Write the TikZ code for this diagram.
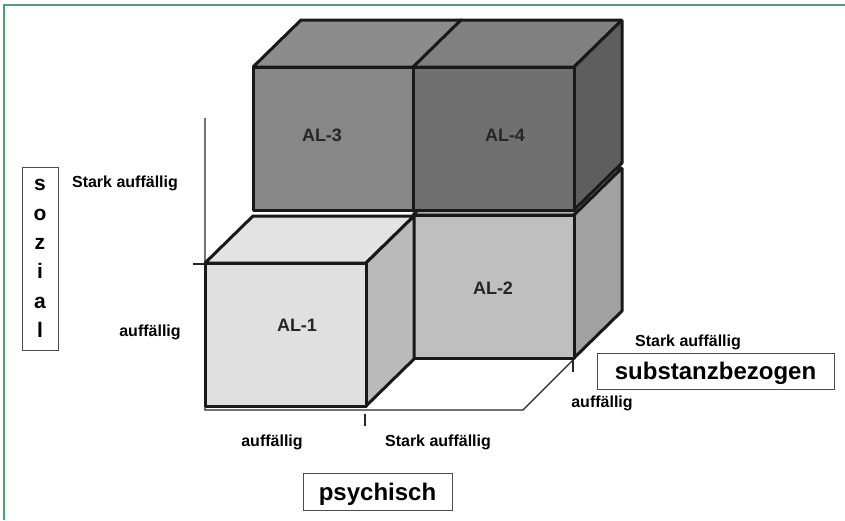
\documentclass[tikz,border=0pt]{standalone}
\usepackage{fontspec}
\setmainfont{Liberation Sans}
\definecolor{framegreen}{RGB}{70,165,110}
\begin{document}
\begin{tikzpicture}[
    x=1pt,
    y=-1pt,
    cube/.style={
        draw=black!90,
        line width=3pt,
        line join=bevel
    },
    axis/.style={
        draw=black!85,
        line width=1.2pt
    },
    cubetext/.style={
        inner sep=0pt,
        text=black!85,
        font=\fontsize{18}{22}\selectfont\bfseries
    },
    axistext/.style={
        inner sep=0pt,
        font=\fontsize{16}{19}\selectfont\bfseries
    },
    titlebox/.style={
        rectangle,
        draw=black!70,
        line width=1pt,
        inner sep=0pt,
        text depth=0pt,
        font=\fontsize{24}{29}\selectfont\bfseries
    }
]
\useasboundingbox (0,0) rectangle (845,520);

% Rahmen
\draw[framegreen, line width=1.5pt] (3,5) -- (845,5);
\draw[framegreen, line width=1.5pt] (4,5) -- (4,520);

% Achsen
\draw[axis] (205,118) -- (205,410) -- (523,410) -- (573,360);
\draw[axis] (193,264) -- (205,264);
\draw[axis] (365,414) -- (365,426);
\draw[axis] (573,360) -- (573,372);

% Wuerfel (hinten zuerst)
\foreach \cx/\cy/\cfront/\ctop/\cside in {
    413/215/black!25/black!30/black!37,
    253/67/black!47/black!45/black!52,
    413/67/black!56/black!50/black!63,
    205/263/black!12/black!11/black!27}{
    \filldraw[cube, fill=\ctop] (\cx,\cy) -- ++(48,-47) -- ++(161,0) -- ++(-48,47) -- cycle;
    \filldraw[cube, fill=\cside] (\cx+161,\cy) -- ++(48,-47) -- ++(0,143) -- ++(-48,47) -- cycle;
    \filldraw[cube, fill=\cfront] (\cx,\cy) rectangle ++(161,143);
}

\node[cubetext] (al3) at (322,135) {AL-3};
\node[cubetext] (al4) at (505,135) {AL-4};
\node[cubetext] (al2) at (493,288) {AL-2};
\node[cubetext] (al1) at (297,325) {AL-1};

% Beschriftungen
\node[axistext] (sozhigh) at (125,183) {Stark auffällig};
\node[axistext] (sozlow) at (150,332) {auffällig};
\node[axistext] (subhigh) at (688,342) {Stark auffällig};
\node[axistext] (sublow) at (602,403) {auffällig};
\node[axistext] (psylow) at (272,442) {auffällig};
\node[axistext] (psyhigh) at (438,442) {Stark auffällig};

\node[titlebox, minimum width=36pt, minimum height=183pt, align=center,
    font=\fontsize{21}{29.4}\selectfont\bfseries] (sozial) at (40,258.5) {s\\o\\z\\i\\a\\l};
\node[titlebox, minimum width=237pt, minimum height=36pt] (substanz) at (715.5,371) {substanzbezogen};
\node[titlebox, minimum width=149pt, minimum height=37pt] (psychisch) at (377.5,491.5) {psychisch};

\end{tikzpicture}
\end{document}
